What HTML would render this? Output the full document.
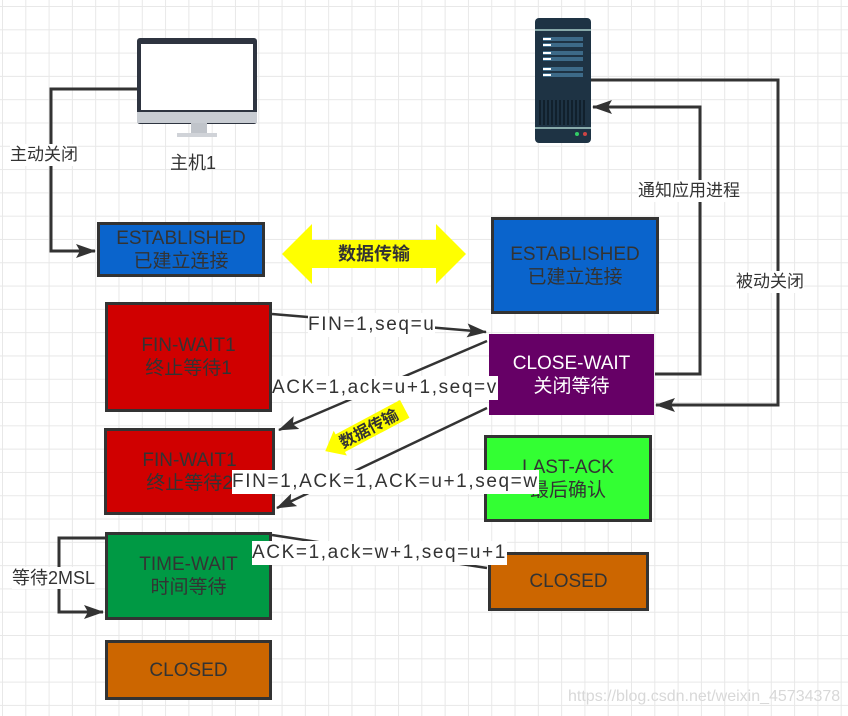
<!DOCTYPE html>
<html><head><meta charset="utf-8"><style>
html,body{margin:0;padding:0}
body{width:848px;height:716px;overflow:hidden;position:relative;background:#fff;
background-image:linear-gradient(#e8e8e8 1px,transparent 1px),linear-gradient(90deg,#e8e8e8 1px,transparent 1px);
background-size:23.3px 23.3px;background-position:2px 6px;font-family:"Liberation Sans","Noto Sans CJK SC",sans-serif}
.b{position:absolute;box-sizing:border-box;border:3px solid #333;display:flex;flex-direction:column;align-items:center;justify-content:center;color:#333;font-size:19px;line-height:23px;text-align:center}
.t{position:absolute;font-size:17px;color:#333;background:#fff;white-space:nowrap;line-height:22px}
.m{font-size:19px;letter-spacing:1.6px;line-height:24px}
svg{position:absolute;left:0;top:0}
</style></head><body>
<svg width="848" height="716">
<defs><marker id="b" markerWidth="20" markerHeight="14" refX="19" refY="7" orient="auto" markerUnits="userSpaceOnUse"><path d="M0,0 L20,7 L0,14 L4,7 Z" fill="#333"/></marker></defs>
<rect x="137" y="38" width="120" height="86" rx="3" fill="#2e3440"/>
<rect x="141" y="44" width="112" height="66" fill="#fff"/>
<rect x="137" y="112" width="120" height="11" fill="#c8ccd2"/>
<rect x="191" y="123" width="16" height="10" fill="#c0c4ca"/>
<rect x="177" y="133" width="40" height="4" fill="#d0d3d8"/>
<rect x="535" y="18" width="56" height="125" rx="4" fill="#1e3344"/>
<rect x="535" y="29" width="56" height="2" fill="#8aa"/>
<g fill="#3d6a88"><rect x="543" y="37" width="40" height="4"/><rect x="543" y="43" width="40" height="4"/><rect x="543" y="51" width="40" height="4"/><rect x="543" y="57" width="40" height="4"/><rect x="543" y="67" width="40" height="4"/><rect x="543" y="73" width="40" height="4"/></g>
<g fill="#fff"><rect x="543" y="38" width="8" height="2"/><rect x="543" y="44" width="8" height="2"/><rect x="543" y="52" width="8" height="2"/><rect x="543" y="58" width="8" height="2"/><rect x="543" y="68" width="8" height="2"/><rect x="543" y="74" width="8" height="2"/></g>
<g stroke="#0d1a24" stroke-width="1.5"><path d="M540,100V125M544,100V125M548,100V125M552,100V125M556,100V125M560,100V125M564,100V125M568,100V125M572,100V125M576,100V125M580,100V125M584,100V125"/></g>
<rect x="535" y="127" width="56" height="2" fill="#8aa"/>
<circle cx="577" cy="134" r="2" fill="#3c6"/><circle cx="585" cy="134" r="2" fill="#c44"/>
<g stroke="#333" stroke-width="3" fill="none">
<path d="M137,89H51V251H95" marker-end="url(#b)"/>
<path d="M591,80H778V405H656" marker-end="url(#b)"/>
<path d="M655,374H700V107H593" marker-end="url(#b)"/>
<path d="M105,538H59V612H103" marker-end="url(#b)"/>
</g>
<g stroke="#333" stroke-width="2.5" fill="none">
<path d="M272,314L486,332" marker-end="url(#b)"/>
<path d="M487,341L279,430" marker-end="url(#b)"/>
<path d="M487,408L277,508" marker-end="url(#b)"/>
<path d="M272,535L487,568"/>
</g>
<path d="M282,254L312,224V240H436V224L466,254L436,284V268H312V284Z" fill="#ffff00"/>
<g transform="translate(365,430) rotate(-28)"><path d="M-45,0L-28,-14V-10H45V10H-28V14Z" fill="#ffff00"/>
<text x="4" y="6" font-size="16" font-weight="bold" fill="#333" text-anchor="middle" font-family="Liberation Sans,Noto Sans CJK SC,sans-serif">数据传输</text></g>
<text x="374" y="260" font-size="18" font-weight="bold" fill="#333" text-anchor="middle" font-family="Liberation Sans,Noto Sans CJK SC,sans-serif">数据传输</text>
</svg>
<div class="t" style="left:170px;top:152px;background:none;font-size:18px">主机1</div>
<div class="t" style="left:10px;top:144px">主动关闭</div>
<div class="t" style="left:638px;top:180px">通知应用进程</div>
<div class="t" style="left:736px;top:271px">被动关闭</div>
<div class="b" style="left:97px;top:222px;width:168px;height:55px;background:#0a64cc">ESTABLISHED<br>已建立连接</div>
<div class="b" style="left:491px;top:217px;width:168px;height:97px;background:#0a64cc">ESTABLISHED<br>已建立连接</div>
<div class="b" style="left:105px;top:302px;width:167px;height:110px;background:#d00000">FIN-WAIT1<br>终止等待1</div>
<div class="b" style="left:489px;top:334px;width:165px;height:81px;background:#660066;color:#fff;border-color:#660066">CLOSE-WAIT<br>关闭等待</div>
<div class="b" style="left:104px;top:428px;width:171px;height:87px;background:#d00000">FIN-WAIT1<br>终止等待2</div>
<div class="b" style="left:484px;top:435px;width:168px;height:87px;background:#33ff33">LAST-ACK<br>最后确认</div>
<div class="b" style="left:105px;top:532px;width:167px;height:88px;background:#009944">TIME-WAIT<br>时间等待</div>
<div class="b" style="left:488px;top:552px;width:161px;height:59px;background:#cc6600">CLOSED</div>
<div class="b" style="left:105px;top:640px;width:167px;height:60px;background:#cc6600">CLOSED</div>
<div class="t m" style="left:308px;top:313px">FIN=1,seq=u</div>
<div class="t m" style="left:272px;top:376px">ACK=1,ack=u+1,seq=v</div>
<div class="t m" style="left:232px;top:470px">FIN=1,ACK=1,ACK=u+1,seq=w</div>
<div class="t m" style="left:252px;top:541px">ACK=1,ack=w+1,seq=u+1</div>
<div class="t" style="left:12px;top:567px;font-size:18px">等待2MSL</div>
<div class="t" style="left:568px;top:686px;background:none;color:#d8d8d8;font-size:16px">https://blog.csdn.net/weixin_45734378</div>
</body></html>
